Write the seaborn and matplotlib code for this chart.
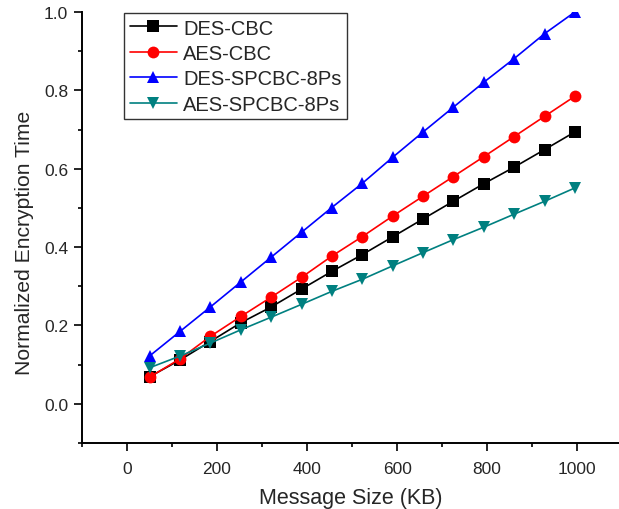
import pandas as pd
import seaborn as sns
import matplotlib.pyplot as plt
from matplotlib.ticker import MultipleLocator

# message sizes (KB)
sizes = [50, 118, 185, 253, 320, 388, 455, 523, 590, 658, 725, 793, 860, 928, 995]

des_cbc = [0.069, 0.112, 0.159, 0.207, 0.247, 0.293, 0.338, 0.381, 0.426, 0.472,
           0.517, 0.562, 0.604, 0.649, 0.694]
aes_cbc = [0.068, 0.115, 0.172, 0.223, 0.272, 0.323, 0.377, 0.427, 0.479, 0.530,
           0.580, 0.631, 0.682, 0.734, 0.785]
des_spcbc = [0.122, 0.185, 0.247, 0.311, 0.374, 0.438, 0.501, 0.563, 0.629, 0.694,
             0.757, 0.821, 0.881, 0.945, 1.0]
aes_spcbc = [0.092, 0.122, 0.155, 0.189, 0.221, 0.254, 0.287, 0.318, 0.352, 0.386,
             0.419, 0.451, 0.484, 0.517, 0.551]

names = ['DES-CBC', 'AES-CBC', 'DES-SPCBC-8Ps', 'AES-SPCBC-8Ps']
colours = ['#000000', '#ff0000', '#0000ff', '#008080']
marks = ['s', 'o', '^', 'v']

sns.set_theme(style='ticks')
plt.rcParams['font.family'] = ['Liberation Sans', 'DejaVu Sans']

df = pd.concat([
    pd.DataFrame({'size': sizes, 'time': vals, 'series': name})
    for name, vals in zip(names, [des_cbc, aes_cbc, des_spcbc, aes_spcbc])
])

fig = plt.figure(figsize=(6.19, 5.10), dpi=100)
ax = fig.add_axes([82 / 619, 66 / 510, 537 / 619, 431 / 510])

sns.lineplot(
    data=df, x='size', y='time', hue='series', style='series',
    hue_order=names, style_order=names,
    palette=dict(zip(names, colours)),
    markers=dict(zip(names, marks)), dashes=False,
    markersize=8.5, markeredgewidth=0, linewidth=1.2, ax=ax,
)

ax.set_xlim(-100, 1093)
ax.set_ylim(-0.1, 1.0)
ax.xaxis.set_major_locator(MultipleLocator(200))
ax.xaxis.set_minor_locator(MultipleLocator(100))
ax.yaxis.set_major_locator(MultipleLocator(0.2))
ax.yaxis.set_minor_locator(MultipleLocator(0.1))
ax.yaxis.set_major_formatter(lambda v, p: '{:.1f}'.format(v))
ax.tick_params(which='major', length=6, width=1.2, labelsize=12.5, color='black')
ax.tick_params(axis='x', which='major', pad=7)
ax.tick_params(axis='y', which='major', pad=4)
ax.tick_params(which='minor', length=3, width=1.2, color='black')
for s in ['top', 'right']:
    ax.spines[s].set_visible(False)
for s in ['left', 'bottom']:
    ax.spines[s].set_linewidth(1.4)
    ax.spines[s].set_color('black')

ax.set_xlabel('Message Size (KB)', fontsize=15.5, labelpad=8)
ax.set_ylabel('Normalized Encryption Time', fontsize=15.2)
ax.yaxis.set_label_coords(-0.09, 0.4675)

leg = ax.legend(
    loc='upper left', bbox_to_anchor=(0.078, 0.998), borderaxespad=0,
    fontsize=14.5, handlelength=2.35, labelspacing=0.32, handletextpad=0.3,
    borderpad=0.28, fancybox=False, framealpha=1,
)
leg.get_frame().set_edgecolor('#333333')
leg.get_frame().set_linewidth(1.0)

fig.savefig('out.png', dpi=100)
